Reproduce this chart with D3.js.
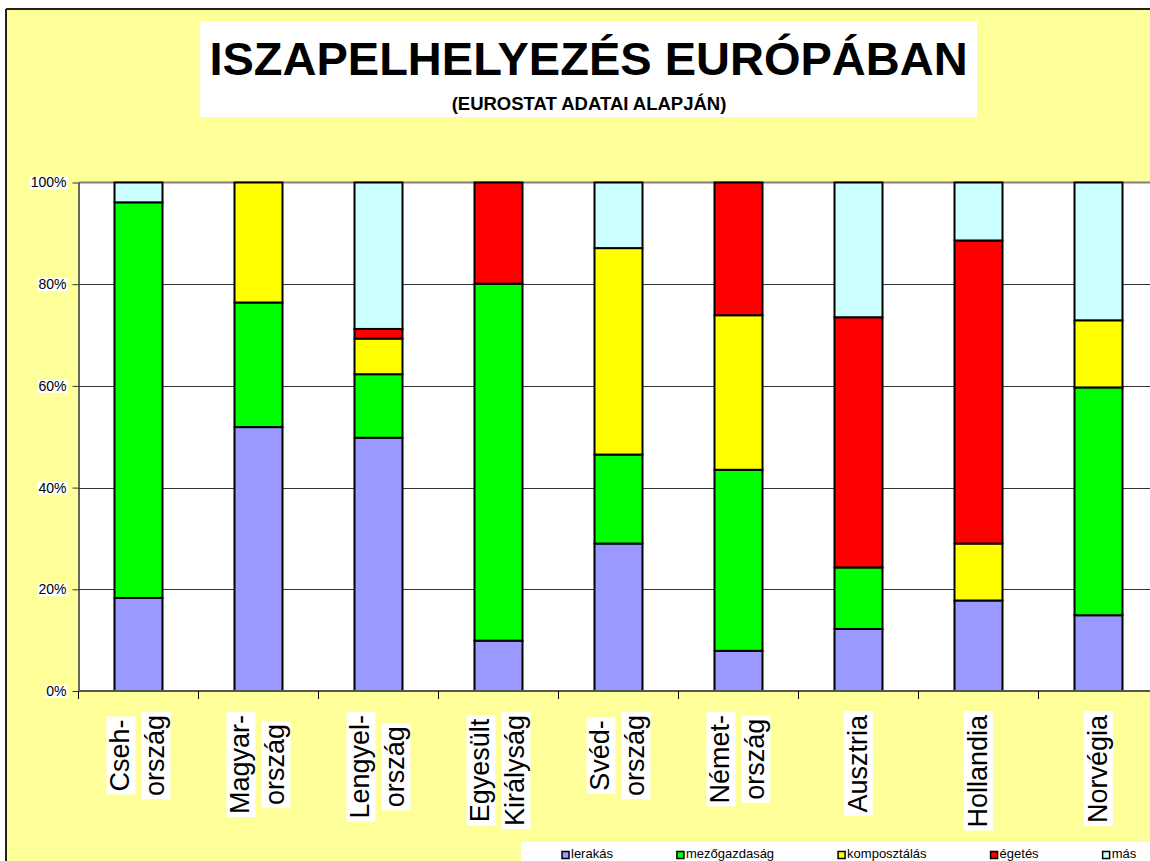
<!DOCTYPE html>
<html>
<head>
<meta charset="utf-8">
<script src="https://cdn.jsdelivr.net/npm/d3@7"></script>
<style>
  html, body { margin: 0; padding: 0; background: #ffffff; overflow: hidden; }
  svg { display: block; font-family: Arial, "Liberation Sans", sans-serif; }
</style>
</head>
<body>
<svg id="chart" width="1150" height="861"></svg>
<script>
// ---- DATA ----
const categories = ["Cseh-\nország", "Magyar-\nország", "Lengyel-\nország", "Egyesült\nKirályság",
                    "Svéd-\nország", "Német-\nország", "Ausztria", "Hollandia", "Norvégia"];
const seriesNames = ["lerakás", "mezőgazdaság", "komposztálás", "égetés", "más"];
const lerakas      = [18.3, 51.9, 49.8,  9.9, 29.0,  7.9, 12.2, 17.8, 14.9];
const mezogazdasag = [77.8, 24.5, 12.5, 70.2, 17.5, 35.6, 12.1,  0.0, 44.8];
const komposztalas = [ 0.0, 23.6,  7.0,  0.0, 40.6, 30.4,  0.0, 11.2, 13.2];
const egetes       = [ 0.0,  0.0,  1.9, 19.9,  0.0, 26.1, 49.2, 59.6,  0.0];
const mas          = [ 3.9,  0.0, 28.8,  0.0, 12.9,  0.0, 26.5, 11.4, 27.1];
const seriesColors = ["#9999FF", "#00FF00", "#FFFF00", "#FF0000", "#CCFFFF"];
const yTicks = [0, 0.2, 0.4, 0.6, 0.8, 1.0];
const titleText = "ISZAPELHELYEZÉS EURÓPÁBAN";
const subtitleText = "(EUROSTAT ADATAI ALAPJÁN)";

// ---- BUILD TABLE ----
const seriesValues = [lerakas, mezogazdasag, komposztalas, egetes, mas];
const table = categories.map((c, i) => {
  const row = { cat: c };
  seriesNames.forEach((s, j) => row[s] = seriesValues[j][i]);
  return row;
});
const stacked = d3.stack().keys(seriesNames).offset(d3.stackOffsetExpand)(table);

const svg = d3.select("#chart");
const W = 1150, H = 861;

// chart background / border
svg.append("rect").attr("x", 0).attr("y", 0).attr("width", W).attr("height", H).attr("fill", "#ffffff");
svg.append("rect").attr("x", 6).attr("y", 9).attr("width", W).attr("height", H).attr("fill", "#FFFF99");
svg.append("line").attr("x1", 6).attr("x2", W).attr("y1", 9).attr("y2", 9).attr("stroke", "#222").attr("stroke-width", 2);
svg.append("line").attr("x1", 6).attr("x2", 6).attr("y1", 9).attr("y2", H).attr("stroke", "#222").attr("stroke-width", 2);

// title
svg.append("rect").attr("x", 200).attr("y", 21).attr("width", 777).attr("height", 96).attr("fill", "#ffffff");
svg.append("text").attr("x", 588.5).attr("y", 75).attr("text-anchor", "middle")
  .attr("font-size", 47).attr("font-weight", "bold").attr("fill", "#000").text(titleText);
svg.append("text").attr("x", 589).attr("y", 110).attr("text-anchor", "middle")
  .attr("font-size", 18.5).attr("font-weight", "bold").attr("fill", "#000").text(subtitleText);

// scales
const plotLeft = 78.5, plotTop = 182.5, plotBottom = 691;
const x = d3.scaleBand().domain(categories).range([plotLeft, plotLeft + 1080]).paddingInner(0.6).paddingOuter(0.3);
const y = d3.scaleLinear().domain([0, 1]).range([plotBottom, plotTop]);

// plot area
svg.append("rect").attr("x", plotLeft).attr("y", plotTop).attr("width", W - plotLeft).attr("height", plotBottom - plotTop).attr("fill", "#ffffff");

// gridlines
svg.append("g").selectAll("line").data(yTicks.filter(t => t > 0 && t < 1)).join("line")
  .attr("x1", plotLeft).attr("x2", W)
  .attr("y1", d => Math.round(y(d)) + 0.5).attr("y2", d => Math.round(y(d)) + 0.5)
  .attr("stroke", "#333").attr("stroke-width", 1);
svg.append("line").attr("x1", plotLeft).attr("x2", W).attr("y1", y(1)).attr("y2", y(1))
  .attr("stroke", "#808080").attr("stroke-width", 2);

// bars
const layers = svg.append("g").selectAll("g").data(stacked).join("g")
  .attr("fill", (d, i) => seriesColors[i]);
layers.selectAll("rect").data(d => d.filter(p => p[1] - p[0] > 0.0001)).join("rect")
  .attr("x", d => x(d.data.cat))
  .attr("width", x.bandwidth())
  .attr("y", d => y(d[1]))
  .attr("height", d => y(d[0]) - y(d[1]))
  .attr("stroke", "#000").attr("stroke-width", 2);

// y axis
const yAxisG = svg.append("g").attr("transform", `translate(${plotLeft},0)`)
  .call(d3.axisLeft(y).tickValues(yTicks).tickFormat(d3.format(".0%")).tickSizeInner(6).tickSizeOuter(0).tickPadding(6));
yAxisG.select(".domain").attr("stroke", "#333").attr("stroke-width", 1.5);
yAxisG.selectAll(".tick line").attr("stroke", "#333");
yAxisG.selectAll(".tick text").attr("font-size", 14).attr("font-family", "Arial, 'Liberation Sans', sans-serif").attr("fill", "#000");
yAxisG.selectAll(".tick").each(function() {
  const t = d3.select(this).select("text");
  const bb = t.node().getBBox();
  d3.select(this).insert("rect", "text")
    .attr("x", bb.x - 1).attr("y", bb.y + 2).attr("width", bb.width + 2).attr("height", bb.height - 3)
    .attr("fill", "#ffffff");
});

// x axis line and ticks
svg.append("line").attr("x1", plotLeft).attr("x2", W).attr("y1", plotBottom).attr("y2", plotBottom)
  .attr("stroke", "#555").attr("stroke-width", 2);
const bounds = d3.range(categories.length + 1).map(i => x.range()[0] + i * x.step());
svg.append("g").selectAll("line").data(bounds).join("line")
  .attr("x1", d => d).attr("x2", d => d).attr("y1", plotBottom).attr("y2", plotBottom + 8)
  .attr("stroke", "#000").attr("stroke-width", 1);

// x labels (rotated, multi-line, each line in a white box)
const labelTop = 712, lineGap = 35, labelFont = 27;
categories.forEach(c => {
  const lines = c.split("\n");
  const cx = x(c) + x.bandwidth() / 2;
  const g = svg.append("g");
  const items = lines.map((ln, i) => {
    const lg = g.append("g");
    const rect = lg.append("rect").attr("fill", "#ffffff");
    const txt = lg.append("text").attr("text-anchor", "middle").attr("dy", "0.35em")
      .attr("font-size", labelFont).attr("fill", "#000").text(ln);
    return { lg, rect, txt, len: txt.node().getComputedTextLength(), i };
  });
  const maxLen = d3.max(items, d => d.len);
  const cy = labelTop + 3 + maxLen / 2;
  items.forEach(it => {
    const off = (it.i - (lines.length - 1) / 2) * lineGap;
    it.lg.attr("transform", `translate(${cx + off - 1},${cy}) rotate(-90)`);
    const bb = it.txt.node().getBBox();
    it.rect.attr("x", bb.x - 3).attr("y", bb.y + 1).attr("width", bb.width + 6).attr("height", bb.height - 1);
  });
});

// legend
svg.append("rect").attr("x", 521).attr("y", 842).attr("width", W - 521).attr("height", 30).attr("fill", "#ffffff");
let lx = 562;
seriesNames.forEach((s, i) => {
  const g = svg.append("g").attr("transform", `translate(${lx},0)`);
  g.append("rect").attr("x", 0).attr("y", 851.5).attr("width", 7).attr("height", 7)
    .attr("fill", seriesColors[i]).attr("stroke", "#000").attr("stroke-width", 1.5);
  const t = g.append("text").attr("x", 9).attr("y", 858).attr("font-size", 13).attr("fill", "#000").text(s);
  lx += 9 + t.node().getComputedTextLength() + 64;
});
</script>
</body>
</html>
